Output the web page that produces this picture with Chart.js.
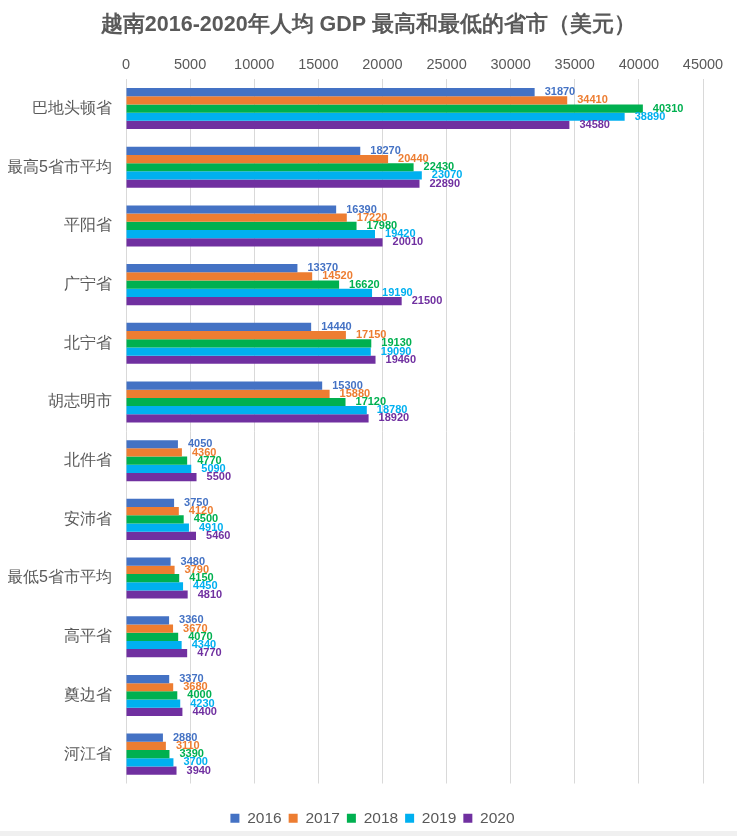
<!DOCTYPE html>
<html>
<head>
<meta charset="utf-8">
<script src="https://cdn.jsdelivr.net/npm/chart.js@4/dist/chart.umd.min.js"></script>
<style>
  body { margin: 0; background: #fff; }
  #wrap { position: relative; width: 737px; height: 836px; background: #fff; }
  #strip { position: absolute; left: 0; bottom: 0; width: 737px; height: 5px; background: #f0f0f0; pointer-events: none; }
</style>
</head>
<body>
<div id="wrap"><canvas id="gdp-chart" width="737" height="836"></canvas><div id="strip"></div></div>
<script>
const provinces = ['巴地头顿省', '最高5省市平均', '平阳省', '广宁省', '北宁省', '胡志明市',
    '北件省', '安沛省', '最低5省市平均', '高平省', '奠边省', '河江省'];

const gdp2016 = [31870, 18270, 16390, 13370, 14440, 15300, 4050, 3750, 3480, 3360, 3370, 2880];
const gdp2017 = [34410, 20440, 17220, 14520, 17150, 15880, 4360, 4120, 3790, 3670, 3680, 3110];
const gdp2018 = [40310, 22430, 17980, 16620, 19130, 17120, 4770, 4500, 4150, 4070, 4000, 3390];
const gdp2019 = [38890, 23070, 19420, 19190, 19090, 18780, 5090, 4910, 4450, 4340, 4230, 3700];
const gdp2020 = [34580, 22890, 20010, 21500, 19460, 18920, 5500, 5460, 4810, 4770, 4400, 3940];

const years = ['2016', '2017', '2018', '2019', '2020'];
const colors = ['#4472C4', '#ED7D31', '#00B050', '#00B0F0', '#7030A0'];
const series = [gdp2016, gdp2017, gdp2018, gdp2019, gdp2020];

const FONT = '"Liberation Sans", Arial, sans-serif';
const GREY = '#595959';

// draws the value right after each bar end
const barLabels = {
    id: 'barLabels',
    afterDatasetsDraw(chart) {
        const ctx = chart.ctx;
        ctx.save();
        ctx.font = 'bold 11px ' + FONT;
        ctx.textBaseline = 'middle';
        ctx.textAlign = 'left';
        chart.data.datasets.forEach((ds, i) => {
            const meta = chart.getDatasetMeta(i);
            ctx.fillStyle = ds.backgroundColor;
            meta.data.forEach((bar, j) => {
                ctx.fillText(ds.data[j], bar.x + 10, bar.y);
            });
        });
        ctx.restore();
    }
};

// center title and legend on the whole canvas, not on the padded box
const centerBlocks = {
    id: 'centerBlocks',
    afterLayout(chart) {
        const t = chart.titleBlock, lg = chart.legend;
        if (t) { t.left = 0; t.right = chart.width; t.width = chart.width; }
        if (lg) { lg.left = 8; lg.right = chart.width; lg.width = chart.width - 8; }
    }
};

const ctx = document.getElementById('gdp-chart').getContext('2d');

new Chart(ctx, {
    type: 'bar',
    data: {
        labels: provinces,
        datasets: years.map((y, i) => ({
            label: y,
            data: series[i],
            backgroundColor: colors[i],
            categoryPercentage: 0.7,
            barPercentage: 1.0
        }))
    },
    plugins: [barLabels, centerBlocks],
    options: {
        indexAxis: 'y',
        responsive: false,
        animation: false,
        layout: { padding: { left: 8, right: 34, top: 6, bottom: 0 } },
        plugins: {
            title: {
                display: true,
                text: '越南2016-2020年人均 GDP 最高和最低的省市（美元）',
                color: GREY,
                font: { family: FONT, size: 21.5, weight: 'bold' },
                padding: { top: 6, bottom: 12 }
            },
            legend: {
                position: 'bottom',
                title: { display: true, text: '', font: { size: 10 }, padding: { top: 4, bottom: 4 } },
                labels: {
                    color: GREY,
                    font: { family: FONT, size: 15.5 },
                    boxWidth: 9,
                    boxHeight: 9,
                    padding: 7
                }
            },
            tooltip: { enabled: false }
        },
        scales: {
            x: {
                position: 'top',
                min: 0,
                max: 45000,
                ticks: {
                    stepSize: 5000,
                    color: GREY,
                    font: { family: FONT, size: 14.5 },
                    padding: 6,
                    callback: v => String(v)
                },
                grid: { color: '#d9d9d9', drawTicks: false },
                border: { display: false }
            },
            y: {
                afterFit(scale) { scale.width = 118; },
                ticks: {
                    color: GREY,
                    font: { family: FONT, size: 16 },
                    padding: 14
                },
                grid: { display: false, drawTicks: false },
                border: { display: false }
            }
        }
    }
});
</script>
</body>
</html>
